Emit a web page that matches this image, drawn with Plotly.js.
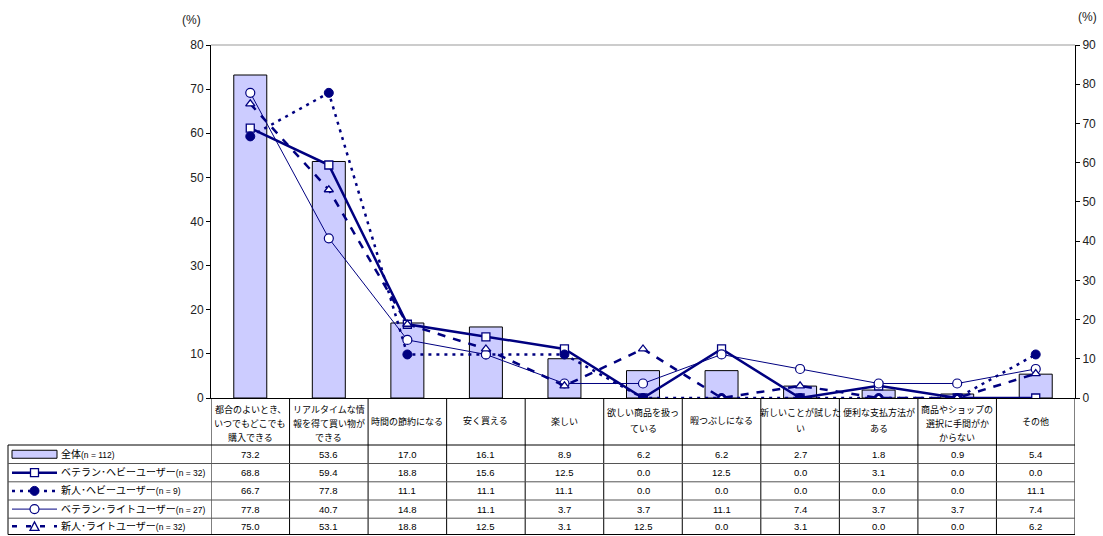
<!DOCTYPE html>
<html>
<head>
<meta charset="utf-8">
<script src="https://cdn.plot.ly/plotly-3.0.1.min.js"></script>
<style>
html,body{margin:0;padding:0;background:#fff;}
#chart{width:1103px;height:536px;}
</style>
</head>
<body>
<div id="chart"></div>
<script>
// ---- data ----
const categories = ['都合のよいとき、いつでもどこでも購入できる','リアルタイムな情報を得て買い物ができる','時間の節約になる','安く買える','楽しい','欲しい商品を扱っている','暇つぶしになる','新しいことが試したい','便利な支払方法がある','商品やショップの選択に手間がかからない','その他'];
const categoryLabels = ['都合のよいとき、<br>いつでもどこでも<br>購入できる','リアルタイムな情<br>報を得て買い物が<br>できる','時間の節約になる','安く買える','楽しい','欲しい商品を扱っ<br>ている','暇つぶしになる','新しいことが試した<br>い','便利な支払方法が<br>ある','商品やショップの<br>選択に手間がか<br>からない','その他'];
const seriesNames = ['全体','ベテラン･ヘビーユーザー','新人･ヘビーユーザー','ベテラン･ライトユーザー','新人･ライトユーザー'];
const seriesN = ['(n = 112)','(n = 32)','(n = 9)','(n = 27)','(n = 32)'];
const allUsers     = [73.2,53.6,17.0,16.1,8.9,6.2,6.2,2.7,1.8,0.9,5.4];
const veteranHeavy = [68.8,59.4,18.8,15.6,12.5,0.0,12.5,0.0,3.1,0.0,0.0];
const newHeavy     = [66.7,77.8,11.1,11.1,11.1,0.0,0.0,0.0,0.0,0.0,11.1];
const veteranLight = [77.8,40.7,14.8,11.1,3.7,3.7,11.1,7.4,3.7,3.7,7.4];
const newLight     = [75.0,53.1,18.8,12.5,3.1,12.5,0.0,3.1,0.0,0.0,6.2];
const leftTicks  = [0,10,20,30,40,50,60,70,80];
const rightTicks = [0,10,20,30,40,50,60,70,80,90];

// ---- geometry ----
const W=1103,H=536, L=211, R=1075, T=45, B=398;
const PW=R-L, PH=B-T;
const X = px => (px-L)/PW;
const Y = py => (B-py)/PH;
const NAVY='#000080';
const FONT='"Liberation Sans", Arial, "Noto Sans CJK JP", sans-serif';

const traces = [
  {type:'bar', x:categories, y:allUsers, yaxis:'y', name:seriesNames[0],
   marker:{color:'#CCCCFF', line:{color:'#000', width:1}}, hoverinfo:'y'},
  {type:'scatter', mode:'lines+markers', x:categories, y:veteranHeavy, yaxis:'y2', name:seriesNames[1],
   line:{color:NAVY, width:2.5}, marker:{symbol:'square', size:8, color:'#fff', line:{color:NAVY, width:1.3}}},
  {type:'scatter', mode:'lines+markers', x:categories, y:newHeavy, yaxis:'y2', name:seriesNames[2],
   line:{color:NAVY, width:2.5, dash:'3px,5px'}, marker:{symbol:'circle', size:9, color:NAVY, line:{color:NAVY, width:1}}},
  {type:'scatter', mode:'lines+markers', x:categories, y:veteranLight, yaxis:'y2', name:seriesNames[3],
   line:{color:NAVY, width:1}, marker:{symbol:'circle', size:9, color:'#fff', line:{color:NAVY, width:1.2}}},
  {type:'scatter', mode:'lines+markers', x:categories, y:newLight, yaxis:'y2', name:seriesNames[4],
   line:{color:NAVY, width:2.5, dash:'8px,8px'}, marker:{symbol:'triangle-up', size:8, color:'#fff', line:{color:NAVY, width:1.3}}}
];

const shapes = [];
const annotations = [];

// top border of plot
shapes.push({type:'line', xref:'paper', yref:'paper', x0:0, x1:1, y0:1, y1:1, line:{color:'#999', width:1}});

// table rows (pixel boundaries)
const headerBottom = 445;
const rowEdges = [445, 463.5, 481.8, 500, 518.2, 534.5];
for (let i=0;i<=categories.length;i++){
  shapes.push({type:'line', xref:'x', yref:'paper', x0:i-0.5, x1:i-0.5, y0:Y(398), y1:Y(rowEdges[rowEdges.length-1]), line:{color:'#000', width:1}});
}
shapes.push({type:'line', xref:'paper', yref:'paper', x0:X(8), x1:X(8), y0:Y(headerBottom), y1:Y(rowEdges[rowEdges.length-1]), line:{color:'#000', width:1}});
rowEdges.forEach((py,k)=>{
  shapes.push({type:'line', xref:'paper', yref:'paper', x0:X(8), x1:1, y0:Y(py), y1:Y(py), line:{color:(k===0||k===rowEdges.length-1)?'#000':'#555', width:1}});
});

// category labels: one annotation per text line for exact line spacing
const lineCenters = {1:[421], 2:[412, 429], 3:[409.5, 423.5, 437.5]};
categoryLabels.forEach((lab,i)=>{
  const parts = lab.split('<br>');
  const ys = lineCenters[parts.length];
  parts.forEach((t,k)=>{
    annotations.push({xref:'x', yref:'paper', x:categories[i], y:Y(ys[k]), text:t, showarrow:false,
      xanchor:'center', yanchor:'middle', align:'center', font:{family:FONT, size:9, color:'#000'}});
  });
});

// table values
const allSeries = [allUsers, veteranHeavy, newHeavy, veteranLight, newLight];
allSeries.forEach((s,r)=>{
  const yc = (rowEdges[r]+rowEdges[r+1])/2;
  s.forEach((v,i)=>{
    annotations.push({xref:'x', yref:'paper', x:categories[i], y:Y(yc), text:v.toFixed(1), showarrow:false,
      xanchor:'center', yanchor:'middle', font:{family:FONT, size:9.5, color:'#000'}});
  });
  annotations.push({xref:'paper', yref:'paper', x:X(59), y:Y(yc), text:seriesNames[r]+'<span style="font-size:8.5px">'+seriesN[r]+'</span>',
    showarrow:false, xanchor:'left', yanchor:'middle', font:{family:FONT, size:10, color:'#000'}});
});

// legend samples
const lx0 = X(12), lx1 = X(57);
const rc = r => (rowEdges[r]+rowEdges[r+1])/2;
shapes.push({type:'rect', xref:'paper', yref:'paper', x0:lx0, x1:lx1, y0:Y(rc(0)+4), y1:Y(rc(0)-4), fillcolor:'#CCCCFF', line:{color:'#000', width:1}});
const lineStyles = [null,
  {width:2.5, dash:'solid'},
  {width:2.5, dash:'3px,5px'},
  {width:1, dash:'solid'},
  {width:2.5, dash:'5px,9px'}];
for (let r=1;r<5;r++){
  const yc = rc(r);
  shapes.push({type:'line', xref:'paper', yref:'paper', x0:lx0, x1:lx1, y0:Y(yc), y1:Y(yc), line:{color:NAVY, width:lineStyles[r].width, dash:lineStyles[r].dash}});
}
function pxBox(cx, cy, hw, hh){ return {x0:X(cx-hw), x1:X(cx+hw), y0:Y(cy+hh), y1:Y(cy-hh)}; }
shapes.push(Object.assign({type:'rect', xref:'paper', yref:'paper', fillcolor:'#fff', line:{color:NAVY, width:1.3}}, pxBox(34.5, rc(1), 4, 4)));
shapes.push(Object.assign({type:'circle', xref:'paper', yref:'paper', fillcolor:NAVY, line:{color:NAVY, width:1}}, pxBox(34.5, rc(2), 4.5, 4.5)));
shapes.push(Object.assign({type:'circle', xref:'paper', yref:'paper', fillcolor:'#fff', line:{color:NAVY, width:1.2}}, pxBox(34.5, rc(3), 4.5, 4.5)));
(function(){
  const cx=34.5, cy=rc(4);
  const p = (x,y)=>X(x)+','+Y(y);
  shapes.push({type:'path', xref:'paper', yref:'paper', path:'M'+p(cx-4.5,cy+4)+' L'+p(cx+4.5,cy+4)+' L'+p(cx,cy-4.5)+' Z', fillcolor:'#fff', line:{color:NAVY, width:1.3}});
})();

// (%) labels
annotations.push({xref:'paper', yref:'paper', x:X(191), y:Y(20), text:'(%)', showarrow:false, xanchor:'center', yanchor:'middle', font:{family:FONT, size:12, color:'#222'}});
annotations.push({xref:'paper', yref:'paper', x:X(1087), y:Y(17), text:'(%)', showarrow:false, xanchor:'center', yanchor:'middle', font:{family:FONT, size:12, color:'#222'}});

const layout = {
  width:W, height:H,
  margin:{l:L, r:W-R, t:T, b:H-B, pad:0},
  paper_bgcolor:'#fff', plot_bgcolor:'#fff',
  showlegend:false,
  bargap:0.58,
  font:{family:FONT, size:12, color:'#222'},
  xaxis:{type:'category', range:[-0.5, categories.length-0.5], showticklabels:false, ticks:'', showgrid:false, zeroline:false,
         showline:true, linecolor:'#000', linewidth:1, fixedrange:true},
  yaxis:{range:[0,80], tickvals:leftTicks, ticks:'outside', ticklen:4, tickcolor:'#000', showgrid:false, zeroline:false,
         showline:true, linecolor:'#000', linewidth:1, tickfont:{family:FONT, size:12, color:'#222'}, fixedrange:true},
  yaxis2:{range:[0,90], tickvals:rightTicks, overlaying:'y', side:'right', ticks:'outside', ticklen:4, tickcolor:'#000', showgrid:false, zeroline:false,
         showline:true, linecolor:'#000', linewidth:1, tickfont:{family:FONT, size:12, color:'#222'}, fixedrange:true},
  shapes:shapes,
  annotations:annotations
};

Plotly.newPlot('chart', traces, layout, {displayModeBar:false, staticPlot:true});
</script>
</body>
</html>
